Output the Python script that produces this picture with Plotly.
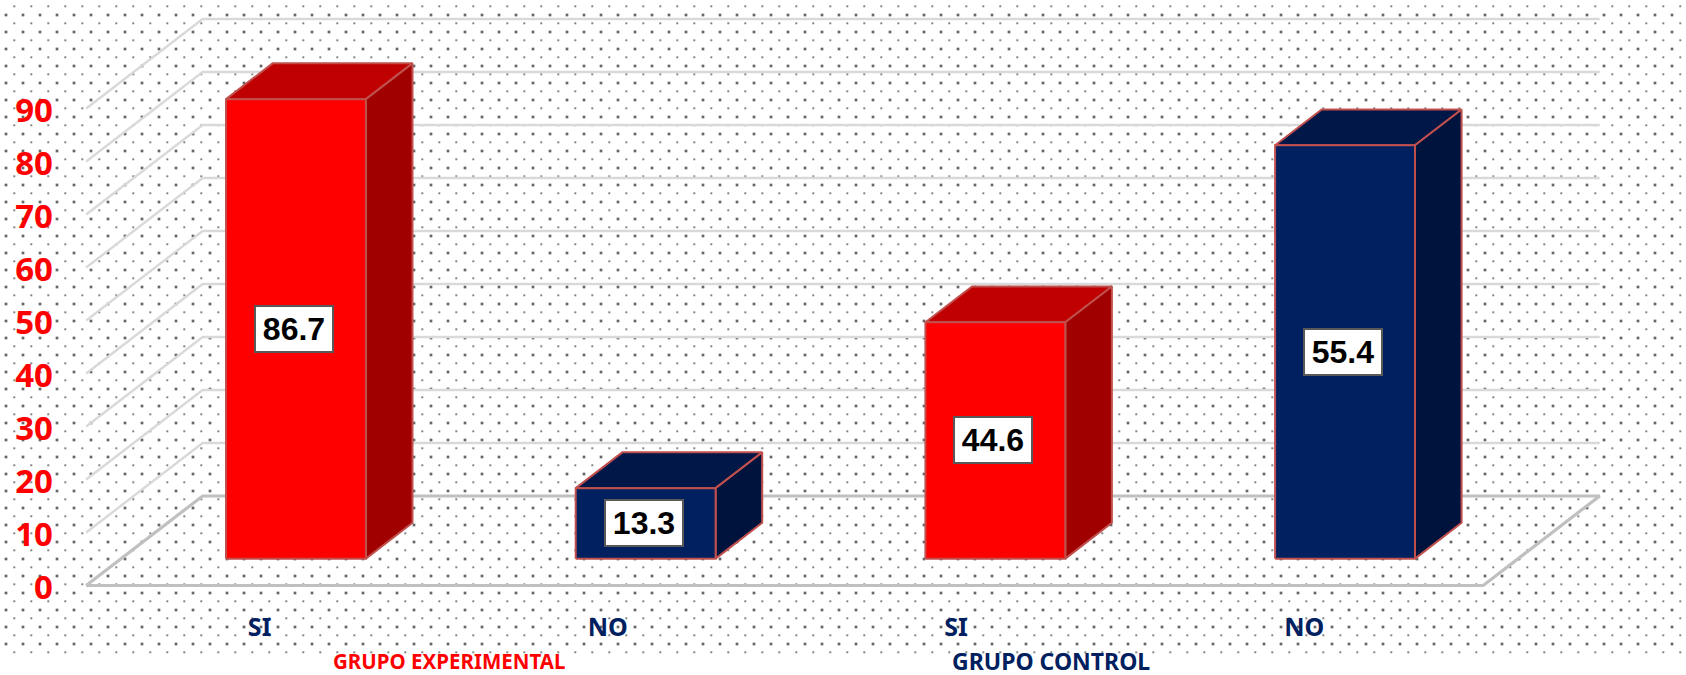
import numpy as np
import plotly.graph_objects as go

# ---- data -------------------------------------------------------------
categories = ["SI", "NO", "SI", "NO"]
# printed value labels
value_labels = [86.7, 13.3, 44.6, 55.4]
# drawn bar heights (the last bar is drawn far taller than its label)
bar_heights = [86.7, 13.3, 44.6, 78.0]
y_ticks = [0, 10, 20, 30, 40, 50, 60, 70, 80, 90]
group_names = ["GRUPO EXPERIMENTAL", "GRUPO CONTROL"]

RED = ("#FF0000", "#C00000", "#A00000")
NAVY = ("#002060", "#001748", "#00133C")
bar_palette = [RED, NAVY, RED, NAVY]
EDGE = "#C0504D"

# ---- oblique projection ------------------------------------------------
W, H = 1686, 675
AX_L = 54
PX_X = 349.7          # pixels per category
PX_Y = 5.30           # pixels per value unit
X0_PX, Y0_PX = 261, 585.5
DEPTH_X = 116.5 / PX_X
DEPTH_Y = 89.5 / PX_Y
BAR_W = 0.4
D0, D1 = 0.30, 0.70
LABEL_STEP = 0.9957   # category labels sit slightly tighter than the bars


def proj(x, v, d):
    return x + d * DEPTH_X, v + d * DEPTH_Y


fig = go.Figure()

# ---- dotted background texture (underlay axes in page units) -----------
for off_x, off_y, size, col in [(6, 15, 2.7, "#666666"), (14.3, 6.3, 2.0, "#858585")]:
    xs, ys = np.meshgrid(np.arange(off_x, W - 3, 17), np.arange(off_y, 654, 17))
    fig.add_trace(go.Scatter(
        x=xs.ravel(), y=ys.ravel(), mode="markers", xaxis="x", yaxis="y",
        marker=dict(size=size, color=col, line=dict(width=0), symbol="square"),
        hoverinfo="skip", showlegend=False))

# ---- walls and floor ---------------------------------------------------
XL, XR = -0.5, 3.495


def add_line(xs, ys, color, width):
    fig.add_trace(go.Scatter(x=xs, y=ys, mode="lines", xaxis="x2", yaxis="y2",
                             line=dict(color=color, width=width),
                             hoverinfo="skip", showlegend=False))


for v in y_ticks[1:]:
    a = proj(XL, v, 0)
    b = proj(XL, v, 1)
    c = proj(XR, v, 1)
    add_line([a[0], b[0], c[0]], [a[1], b[1], c[1]], "#D9D9D9", 2.4)

f = [proj(XL, 0, 0), proj(XL, 0, 1), proj(XR, 0, 1), proj(XR, 0, 0), proj(XL, 0, 0)]
add_line([p[0] for p in f], [p[1] for p in f], "#C0C0C0", 3.2)


# ---- 3-D bars ----------------------------------------------------------
def poly(points, fill):
    xs = [p[0] for p in points] + [points[0][0]]
    ys = [p[1] for p in points] + [points[0][1]]
    fig.add_trace(go.Scatter(x=xs, y=ys, mode="lines", fill="toself", fillcolor=fill,
                             xaxis="x2", yaxis="y2",
                             line=dict(color=EDGE, width=2),
                             hoverinfo="skip", showlegend=False))


for i, (h, pal) in enumerate(zip(bar_heights, bar_palette)):
    l, r = i - BAR_W / 2, i + BAR_W / 2
    poly([proj(l, h, D0), proj(l, h, D1), proj(r, h, D1), proj(r, h, D0)], pal[1])     # top
    poly([proj(r, 0, D0), proj(r, 0, D1), proj(r, h, D1), proj(r, h, D0)], pal[2])     # side
    poly([proj(l, 0, D0), proj(r, 0, D0), proj(r, h, D0), proj(l, h, D0)], pal[0])     # front

# ---- value boxes -------------------------------------------------------
annotations = []
for i, (h, lab) in enumerate(zip(bar_heights, value_labels)):
    px, py = proj(i, h / 2, D0)
    annotations.append(dict(
        x=px, y=py, xref="x2", yref="y2", text=f"<b>{lab}</b>", showarrow=False,
        xshift=-2, width=66, height=34,
        font=dict(family="Liberation Sans", size=32, color="#000000"),
        bgcolor="#FFFFFF", bordercolor="#595959", borderwidth=2, borderpad=5,
        xanchor="center", yanchor="middle"))

# ---- group titles ------------------------------------------------------
for name, xc, yc, col, fs in zip(group_names, [0.537, 2.26], [661, 660],
                                 ["#FF0000", "#002060"], [20.5, 23]):
    annotations.append(dict(
        x=xc, y=1 - yc / H, xref="x2", yref="paper", text=f"<b>{name}</b>", showarrow=False,
        height=int(fs * 1.1),
        font=dict(family="Noto Sans", size=fs, color=col),
        xanchor="center", yanchor="middle"))

# ---- layout ------------------------------------------------------------
fig.update_layout(
    width=W, height=H, margin=dict(l=0, r=0, t=0, b=0),
    paper_bgcolor="#FFFFFF", plot_bgcolor="rgba(0,0,0,0)", showlegend=False,
    annotations=annotations,
    xaxis=dict(domain=[0, 1], range=[0, W], visible=False, fixedrange=True),
    yaxis=dict(domain=[0, 1], range=[H, 0], visible=False, fixedrange=True),
    xaxis2=dict(
        domain=[AX_L / W, 1], anchor="free", position=1 - 610 / H,
        range=[(AX_L - X0_PX) / PX_X, (W - X0_PX) / PX_X],
        tickmode="array", tickvals=[i * LABEL_STEP - 0.004 for i in range(len(categories))],
        ticktext=categories,
        tickfont=dict(family="Noto Sans", size=25, color="#002060", weight="bold"),
        ticklen=0, showgrid=False, zeroline=False, showline=False, fixedrange=True),
    yaxis2=dict(
        domain=[0, 1], anchor="x2",
        range=[-(H - Y0_PX) / PX_Y, Y0_PX / PX_Y],
        tickmode="array", tickvals=y_ticks, ticktext=[str(t) for t in y_ticks],
        ticklabelshift=2,
        tickfont=dict(family="Noto Sans", size=33, color="#FF0000", weight="bold"),
        ticklen=0, showgrid=False, zeroline=False, showline=False, fixedrange=True),
)

fig.write_html("out.html", config={"displayModeBar": False},
               post_script="document.body.style.margin='0';document.body.style.overflow='hidden';")
